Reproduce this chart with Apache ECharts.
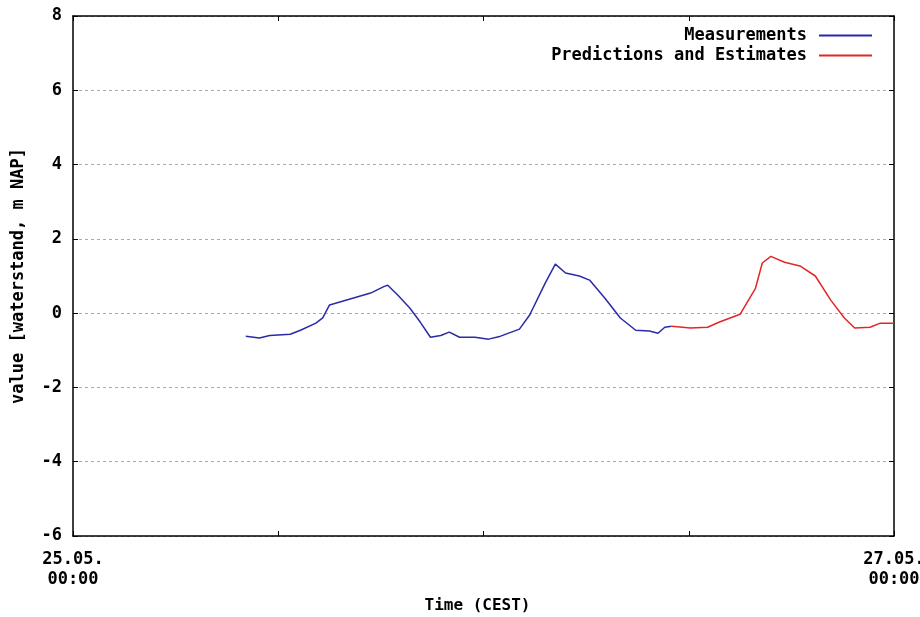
<!DOCTYPE html>
<html><head><meta charset="utf-8">
<script src="https://cdn.jsdelivr.net/npm/echarts@6/dist/echarts.min.js"></script>
<style>html,body{margin:0;padding:0;background:#fff}#c{width:920px;height:617px}</style>
</head><body><div id="c"></div>
<script>
// hours since 25.05. 00:00
const measHours = [10.1,10.9,11.5,12.7,13.3,14.2,14.6,15.0,16.2,17.4,18.2,18.4,19.0,19.7,20.3,20.9,21.5,22.0,22.6,23.5,24.3,25.0,26.1,26.7,27.6,28.2,28.8,29.6,30.2,31.1,32.0,32.9,33.7,34.2,34.6,35.0];
const measValues = [-0.62,-0.67,-0.60,-0.57,-0.46,-0.27,-0.13,0.22,0.38,0.54,0.72,0.75,0.48,0.13,-0.24,-0.65,-0.60,-0.51,-0.65,-0.65,-0.70,-0.62,-0.43,-0.05,0.80,1.32,1.08,1.00,0.89,0.40,-0.13,-0.46,-0.48,-0.54,-0.38,-0.35];
const predHours = [35.0,36.1,37.1,37.8,39.0,39.9,40.3,40.8,41.6,42.5,43.4,44.3,45.1,45.7,46.6,47.2,48.0];
const predValues = [-0.35,-0.40,-0.38,-0.24,-0.03,0.67,1.35,1.53,1.37,1.27,1.00,0.35,-0.13,-0.40,-0.38,-0.27,-0.27];
const xTickLabels = {0: '25.05.\n00:00', 48: '27.05.\n00:00'};
const seriesNames = ['Measurements', 'Predictions and Estimates'];

const FONT = 'DejaVu Sans Mono';
const pair = (xs, ys) => xs.map((x, i) => [x, ys[i]]);
const chart = echarts.init(document.getElementById('c'), null, {renderer: 'canvas'});
const axisLine = {show: true, onZero: false, lineStyle: {color: '#000', width: 1.5}};
const tick = {show: true, inside: true, length: 5, lineStyle: {color: '#000'}};
chart.setOption({
  animation: false,
  backgroundColor: '#fff',
  grid: {left: 73, right: 26, top: 16, bottom: 81, containLabel: false, outerBoundsMode: 'none'},
  legend: {
    orient: 'vertical', right: 43, top: 22, align: 'right',
    icon: 'rect', itemWidth: 53, itemHeight: 2, itemGap: 3,
    textStyle: {fontFamily: FONT, fontWeight: 'bold', fontSize: 17, color: '#000', padding: [0, 7, 0, 0]},
    data: seriesNames
  },
  xAxis: [{
    type: 'value', min: 0, max: 48, interval: 12,
    axisLine, axisTick: tick, splitLine: {show: false},
    axisLabel: {
      margin: 14, lineHeight: 20, showMinLabel: true, showMaxLabel: true,
      fontFamily: FONT, fontWeight: 'bold', fontSize: 17, color: '#000',
      formatter: v => xTickLabels[v] || ''
    },
    name: 'Time (CEST)', nameLocation: 'middle', nameGap: 62,
    nameTextStyle: {fontFamily: FONT, fontWeight: 'bold', fontSize: 16, color: '#000', padding: [0, 12, 0, 0]}
  }, {
    type: 'value', min: 0, max: 48, interval: 12, position: 'top',
    axisLine, axisTick: tick, axisLabel: {show: false}, splitLine: {show: false}
  }],
  yAxis: [{
    type: 'value', min: -6, max: 8, interval: 2,
    axisLine, axisTick: tick,
    splitLine: {show: true, lineStyle: {color: '#aaa', type: [3, 3], width: 1}},
    axisLabel: {margin: 11, fontFamily: FONT, fontWeight: 'bold', fontSize: 17, color: '#000'},
    name: 'value [waterstand, m NAP]', nameLocation: 'middle', nameGap: 46,
    nameTextStyle: {fontFamily: FONT, fontWeight: 'bold', fontSize: 17, color: '#000'}
  }, {
    type: 'value', min: -6, max: 8, interval: 2, position: 'right',
    axisLine, axisTick: tick, axisLabel: {show: false}, splitLine: {show: false}
  }],
  series: [{
    name: seriesNames[0], type: 'line', symbol: 'none',
    data: pair(measHours, measValues),
    lineStyle: {color: '#2a2aa8', width: 1.5}, itemStyle: {color: '#2a2aa8'}
  }, {
    name: seriesNames[1], type: 'line', symbol: 'none',
    data: pair(predHours, predValues),
    lineStyle: {color: '#e02828', width: 1.5}, itemStyle: {color: '#e02828'}
  }]
});
</script></body></html>
